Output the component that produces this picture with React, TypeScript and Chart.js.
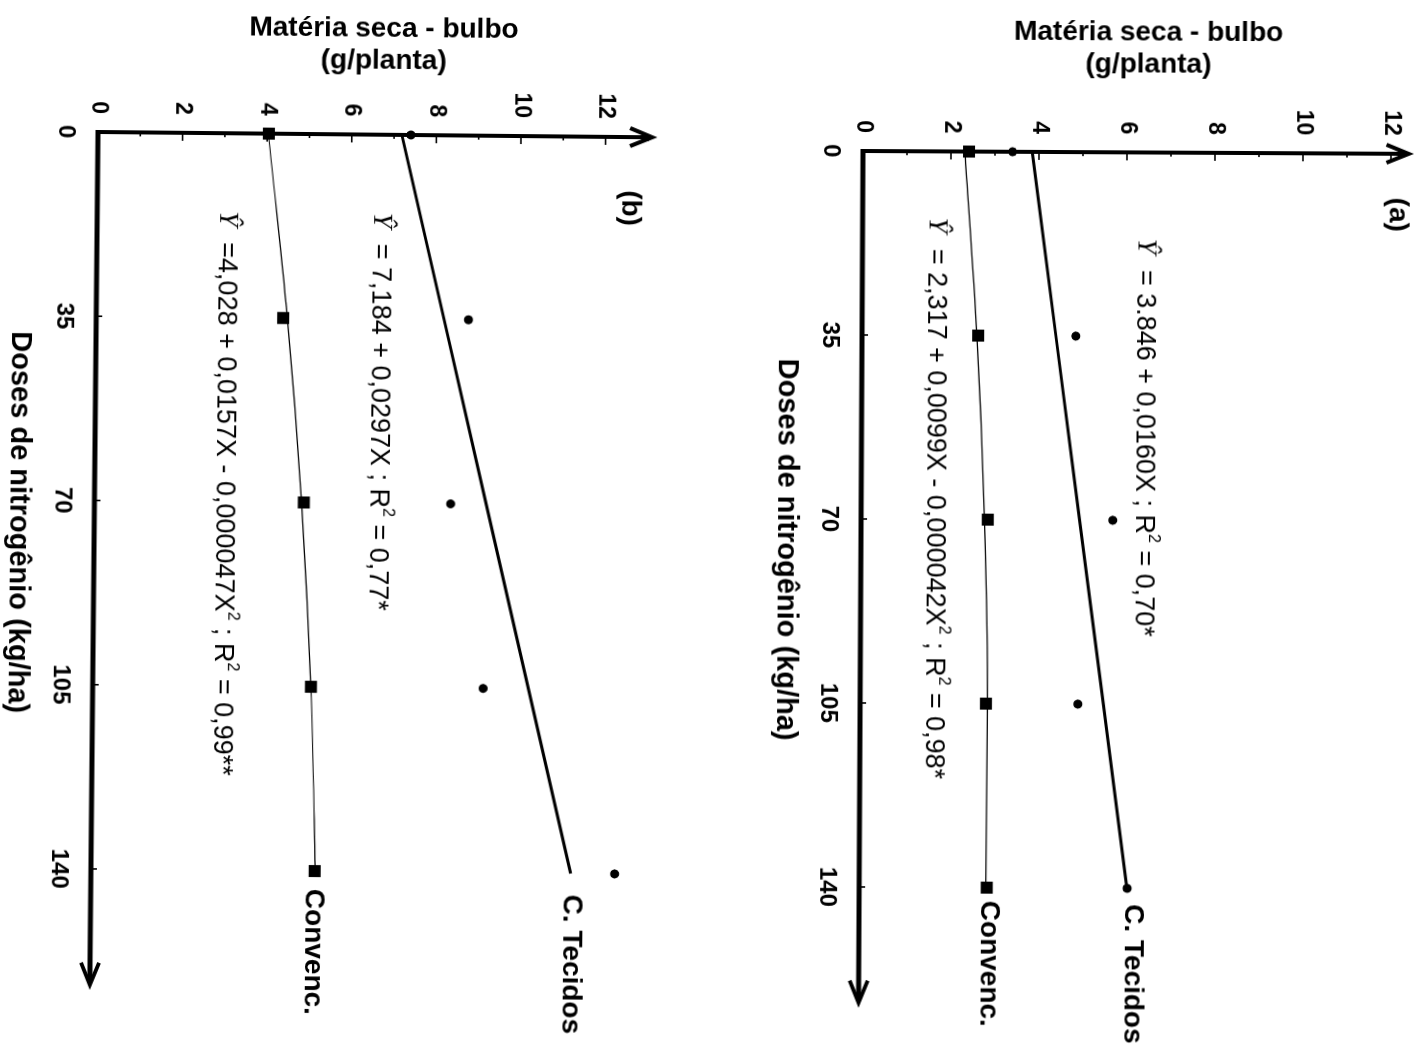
import React, { useEffect, useRef } from 'react';
import { Chart, registerables } from 'chart.js';

Chart.register(...registerables);

const SANS = '"Liberation Sans", Arial, Helvetica, sans-serif';
const SERIF = '"Liberation Serif", "Times New Roman", serif';

// Nitrogen doses (kg/ha) and axis ticks
const DOSES = [0, 35, 70, 105, 140];
const DOSE_TICKS = [0, 35, 70, 105, 140];
const MATTER_TICKS = [0, 2, 4, 6, 8, 10, 12];

const Y_TITLE = ['Matéria seca - bulbo', '(g/planta)'];
const X_TITLE = 'Doses de nitrogênio (kg/ha)';
const LABEL_TECIDOS = 'C. Tecidos';
const LABEL_CONVENC = 'Convenc.';
const HAT_Y = 'Ŷ';

// Panel (a): bulb dry matter (g/planta)
const A_TECIDOS = [3.4, 4.86, 5.72, 4.95, 6.09];
const A_CONVENC = [2.41, 2.64, 2.88, 2.86, 2.9];
const A_TECIDOS_FIT = [3.846, 4.406, 4.966, 5.526, 6.086];
const A_CONVENC_FIT = [2.317, 2.612, 2.804, 2.894, 2.88];
// equation pieces: odd entries are superscripts
const A_EQ_TECIDOS = [' = 3.846 + 0,0160X ; R', '2', ' = 0,70*'];
const A_EQ_CONVENC = [' = 2,317 + 0,0099X - 0,000042X', '2', ' ; R', '2', ' = 0,98*'];

// Panel (b)
const B_TECIDOS = [7.4, 8.8, 8.42, 9.23, 12.38];
const B_CONVENC = [4.04, 4.42, 4.95, 5.16, 5.29];
const B_TECIDOS_FIT = [7.184, 8.224, 9.263, 10.303, 11.342];
const B_CONVENC_FIT = [4.028, 4.52, 4.897, 5.158, 5.305];
const B_EQ_TECIDOS = [' = 7,184 + 0,0297X ; R', '2', ' = 0,77*'];
const B_EQ_CONVENC = [' =4,028 + 0,0157X - 0,000047X', '2', ' ; R', '2', ' = 0,99**'];

type Pt = [number, number];

interface PanelSpec {
  letter: string;
  tecidos: number[];
  convenc: number[];
  tecidosFit: number[];
  convencFit: number[];
  eqTecidos: string[];
  eqConvenc: string[];
  // geometry (page pixels) of the axis corner and scale densities
  ox: number;
  oy: number;
  pxDose: number;
  pxMatter: number;
  doseMax: number;
  matterMax: number;
  tilt: number;
  pageLeft: number;
  pageRight: number;
  titleDx: number;
  titleDy: [number, number];
  xTitleDx: number;
  xTitleDy: number;
  letterAt: Pt;
  eqTecidosAt: Pt;
  eqConvencAt: Pt;
  labTecidosAt: Pt;
  labConvencAt: Pt;
}

const PAGE_W = 1426;
const PAGE_H = 1054;

const PANEL_B: PanelSpec = {
  letter: '(b)',
  tecidos: B_TECIDOS,
  convenc: B_CONVENC,
  tecidosFit: B_TECIDOS_FIT,
  convencFit: B_CONVENC_FIT,
  eqTecidos: B_EQ_TECIDOS,
  eqConvenc: B_EQ_CONVENC,
  ox: 98,
  oy: 132,
  pxDose: 5.264,
  pxMatter: 42.3,
  doseMax: 162,
  matterMax: 13.1,
  tilt: 0.55,
  pageLeft: 0,
  pageRight: 700,
  titleDx: 285,
  titleDy: [-106, -74],
  xTitleDx: -76,
  xTitleDy: 391,
  letterAt: [13.5, 12.6],
  eqTecidosAt: [14.8, 6.69],
  eqConvencAt: [14.8, 3.05],
  labTecidosAt: [144, 11.37],
  labConvencAt: [143.4, 5.27],
};

const PANEL_A: PanelSpec = {
  letter: '(a)',
  tecidos: A_TECIDOS,
  convenc: A_CONVENC,
  tecidosFit: A_TECIDOS_FIT,
  convencFit: A_CONVENC_FIT,
  eqTecidos: A_EQ_TECIDOS,
  eqConvenc: A_EQ_CONVENC,
  ox: 863,
  oy: 151,
  pxDose: 5.257,
  pxMatter: 44,
  doseMax: 162,
  matterMax: 12.4,
  tilt: 0.3,
  pageLeft: 720,
  pageRight: PAGE_W,
  titleDx: 285,
  titleDy: [-120, -88],
  xTitleDx: -75,
  xTitleDy: 399,
  letterAt: [11.6, 12.16],
  eqTecidosAt: [16.4, 6.41],
  eqConvencAt: [12.6, 1.66],
  labTecidosAt: [143, 6.23],
  labConvencAt: [142.5, 2.95],
};

function pairs(values: number[]) {
  return DOSES.map((d, i) => ({ x: d, y: values[i] }));
}

function drawEquation(ctx: CanvasRenderingContext2D, pieces: string[], x: number, y: number, size: number) {
  let cx = x;
  ctx.textAlign = 'left';
  ctx.textBaseline = 'middle';
  ctx.font = `italic ${size + 1}px ${SERIF}`;
  ctx.fillText(HAT_Y, cx, y - 1);
  cx += ctx.measureText(HAT_Y).width + size * 0.3;
  pieces.forEach((s, i) => {
    const sup = i % 2 === 1;
    const fs = sup ? Math.round(size * 0.6) : size;
    ctx.font = `${fs}px ${SANS}`;
    ctx.fillText(s, cx, sup ? y - size * 0.38 : y);
    cx += ctx.measureText(s).width;
  });
}

function Panel({ spec }: { spec: PanelSpec }) {
  const ref = useRef<HTMLCanvasElement | null>(null);

  // unrotated frame: u runs along the dose axis, v across it
  const W = PAGE_H;
  const u0 = spec.oy;
  const v0 = spec.pageRight - spec.ox;
  const H = spec.pageRight - spec.pageLeft;
  const areaRight = u0 + spec.doseMax * spec.pxDose;
  const areaTop = v0 - spec.matterMax * spec.pxMatter;

  useEffect(() => {
    const canvas = ref.current;
    if (!canvas) return;

    const decor = {
      id: 'decor',
      afterDraw(chart: any) {
        const { ctx, chartArea } = chart;
        const xs = chart.scales.x;
        const ys = chart.scales.y;
        const x0 = xs.getPixelForValue(0);
        const y0 = ys.getPixelForValue(0);
        const line = (a: number, b: number, c: number, d: number) => {
          ctx.beginPath();
          ctx.moveTo(a, b);
          ctx.lineTo(c, d);
          ctx.stroke();
        };
        ctx.save();
        ctx.strokeStyle = '#000';
        ctx.fillStyle = '#000';

        // dose axis with arrow
        ctx.lineWidth = 5;
        line(x0 - 2, y0, chartArea.right - 2, y0);
        ctx.lineWidth = 4;
        ctx.lineJoin = 'miter';
        ctx.beginPath();
        ctx.moveTo(chartArea.right - 22, y0 - 9);
        ctx.lineTo(chartArea.right, y0);
        ctx.lineTo(chartArea.right - 22, y0 + 9);
        ctx.stroke();

        // dry matter axis with arrow
        ctx.lineWidth = 4;
        line(x0, y0 + 2, x0, chartArea.top + 2);
        ctx.beginPath();
        ctx.moveTo(x0 - 9, chartArea.top + 22);
        ctx.lineTo(x0, chartArea.top);
        ctx.lineTo(x0 + 9, chartArea.top + 22);
        ctx.stroke();

        // small tick marks pointing into the plot
        ctx.lineWidth = 1.6;
        for (let m = 1; m <= Math.floor(ys.max); m++) {
          const py = ys.getPixelForValue(m);
          line(x0, py, x0 + (m % 2 === 0 ? 8 : 4), py);
        }
        DOSE_TICKS.slice(1).forEach((d) => {
          const px = xs.getPixelForValue(d);
          line(px, y0, px, y0 - 6);
        });

        // axis titles
        ctx.textAlign = 'center';
        ctx.textBaseline = 'middle';
        ctx.font = `bold 28px ${SANS}`;
        Y_TITLE.forEach((t, i) => {
          ctx.save();
          ctx.translate(u0 + spec.titleDy[i], v0 - spec.titleDx);
          ctx.rotate(-Math.PI / 2);
          ctx.fillText(t, 0, 0);
          ctx.restore();
        });
        ctx.font = `bold 29px ${SANS}`;
        ctx.fillText(X_TITLE, u0 + spec.xTitleDy, v0 - spec.xTitleDx);

        // panel letter
        ctx.font = `bold 28px ${SANS}`;
        ctx.fillText(spec.letter, xs.getPixelForValue(spec.letterAt[0]), ys.getPixelForValue(spec.letterAt[1]));

        // series names
        ctx.textAlign = 'left';
        ctx.fillText(LABEL_TECIDOS, xs.getPixelForValue(spec.labTecidosAt[0]), ys.getPixelForValue(spec.labTecidosAt[1]));
        ctx.fillText(LABEL_CONVENC, xs.getPixelForValue(spec.labConvencAt[0]), ys.getPixelForValue(spec.labConvencAt[1]));

        // regression equations
        drawEquation(ctx, spec.eqTecidos, xs.getPixelForValue(spec.eqTecidosAt[0]), ys.getPixelForValue(spec.eqTecidosAt[1]), 27);
        drawEquation(ctx, spec.eqConvenc, xs.getPixelForValue(spec.eqConvencAt[0]), ys.getPixelForValue(spec.eqConvencAt[1]), 27);

        ctx.restore();
      },
    };

    const chart = new Chart(canvas, {
      type: 'line',
      data: {
        datasets: [
          {
            label: 'C. Tecidos (ajuste)',
            data: pairs(spec.tecidosFit),
            borderColor: '#000',
            borderWidth: 3,
            pointRadius: 0,
            fill: false,
            clip: false as any,
          },
          {
            label: 'Convenc. (ajuste)',
            data: pairs(spec.convencFit),
            borderColor: '#000',
            borderWidth: 1.2,
            pointRadius: 0,
            cubicInterpolationMode: 'monotone',
            fill: false,
            clip: false as any,
          },
          {
            label: 'C. Tecidos',
            data: pairs(spec.tecidos),
            showLine: false,
            pointStyle: 'circle',
            pointRadius: 4.5,
            pointBackgroundColor: '#000',
            pointBorderColor: '#000',
            pointBorderWidth: 0,
            clip: false as any,
          },
          {
            label: 'Convenc.',
            data: pairs(spec.convenc),
            showLine: false,
            pointStyle: 'rect',
            pointRadius: 8.5,
            pointBackgroundColor: '#000',
            pointBorderColor: '#000',
            pointBorderWidth: 0,
            clip: false as any,
          },
        ],
      },
      options: {
        animation: false,
        responsive: false,
        devicePixelRatio: 1,
        events: [],
        layout: { padding: { left: 0, top: areaTop, right: W - areaRight, bottom: 0 } },
        plugins: { legend: { display: false }, tooltip: { enabled: false }, title: { display: false } },
        scales: {
          x: {
            type: 'linear',
            min: 0,
            max: spec.doseMax,
            grid: { display: false, drawTicks: false },
            border: { display: false },
            ticks: { color: '#000', font: { family: SANS, size: 24, weight: 'bold' }, padding: 18, maxRotation: 0 },
            afterBuildTicks: (s: any) => {
              s.ticks = DOSE_TICKS.map((v) => ({ value: v }));
            },
            afterFit: (s: any) => {
              s.height = H - v0;
              s.paddingLeft = 0;
              s.paddingRight = 0;
              s.paddingTop = 0;
              s.paddingBottom = 0;
            },
          },
          y: {
            type: 'linear',
            min: 0,
            max: spec.matterMax,
            grid: { display: false, drawTicks: false },
            border: { display: false },
            ticks: { color: '#000', font: { family: SANS, size: 23, weight: 'bold' }, padding: 18 },
            afterBuildTicks: (s: any) => {
              s.ticks = MATTER_TICKS.map((v) => ({ value: v }));
            },
            afterFit: (s: any) => {
              s.width = u0;
              s.paddingLeft = 0;
              s.paddingRight = 0;
              s.paddingTop = 0;
              s.paddingBottom = 0;
            },
          },
        },
      } as any,
      plugins: [decor],
    });
    return () => chart.destroy();
  }, []);

  return (
    <div
      style={{
        position: 'absolute',
        left: spec.ox - u0,
        top: spec.oy - v0,
        width: W,
        height: H,
        transformOrigin: `${u0}px ${v0}px`,
        transform: `rotate(${90 + spec.tilt}deg)`,
      }}
    >
      <canvas ref={ref} width={W} height={H} style={{ display: 'block', width: W, height: H }} />
    </div>
  );
}

export default function App() {
  useEffect(() => {
    document.body.style.margin = '0';
    document.body.style.overflow = 'hidden';
  }, []);
  return (
    <div
      style={{
        position: 'fixed',
        left: 0,
        top: 0,
        width: PAGE_W,
        height: PAGE_H,
        overflow: 'hidden',
        background: '#fff',
      }}
    >
      <Panel spec={PANEL_B} />
      <Panel spec={PANEL_A} />
    </div>
  );
}
